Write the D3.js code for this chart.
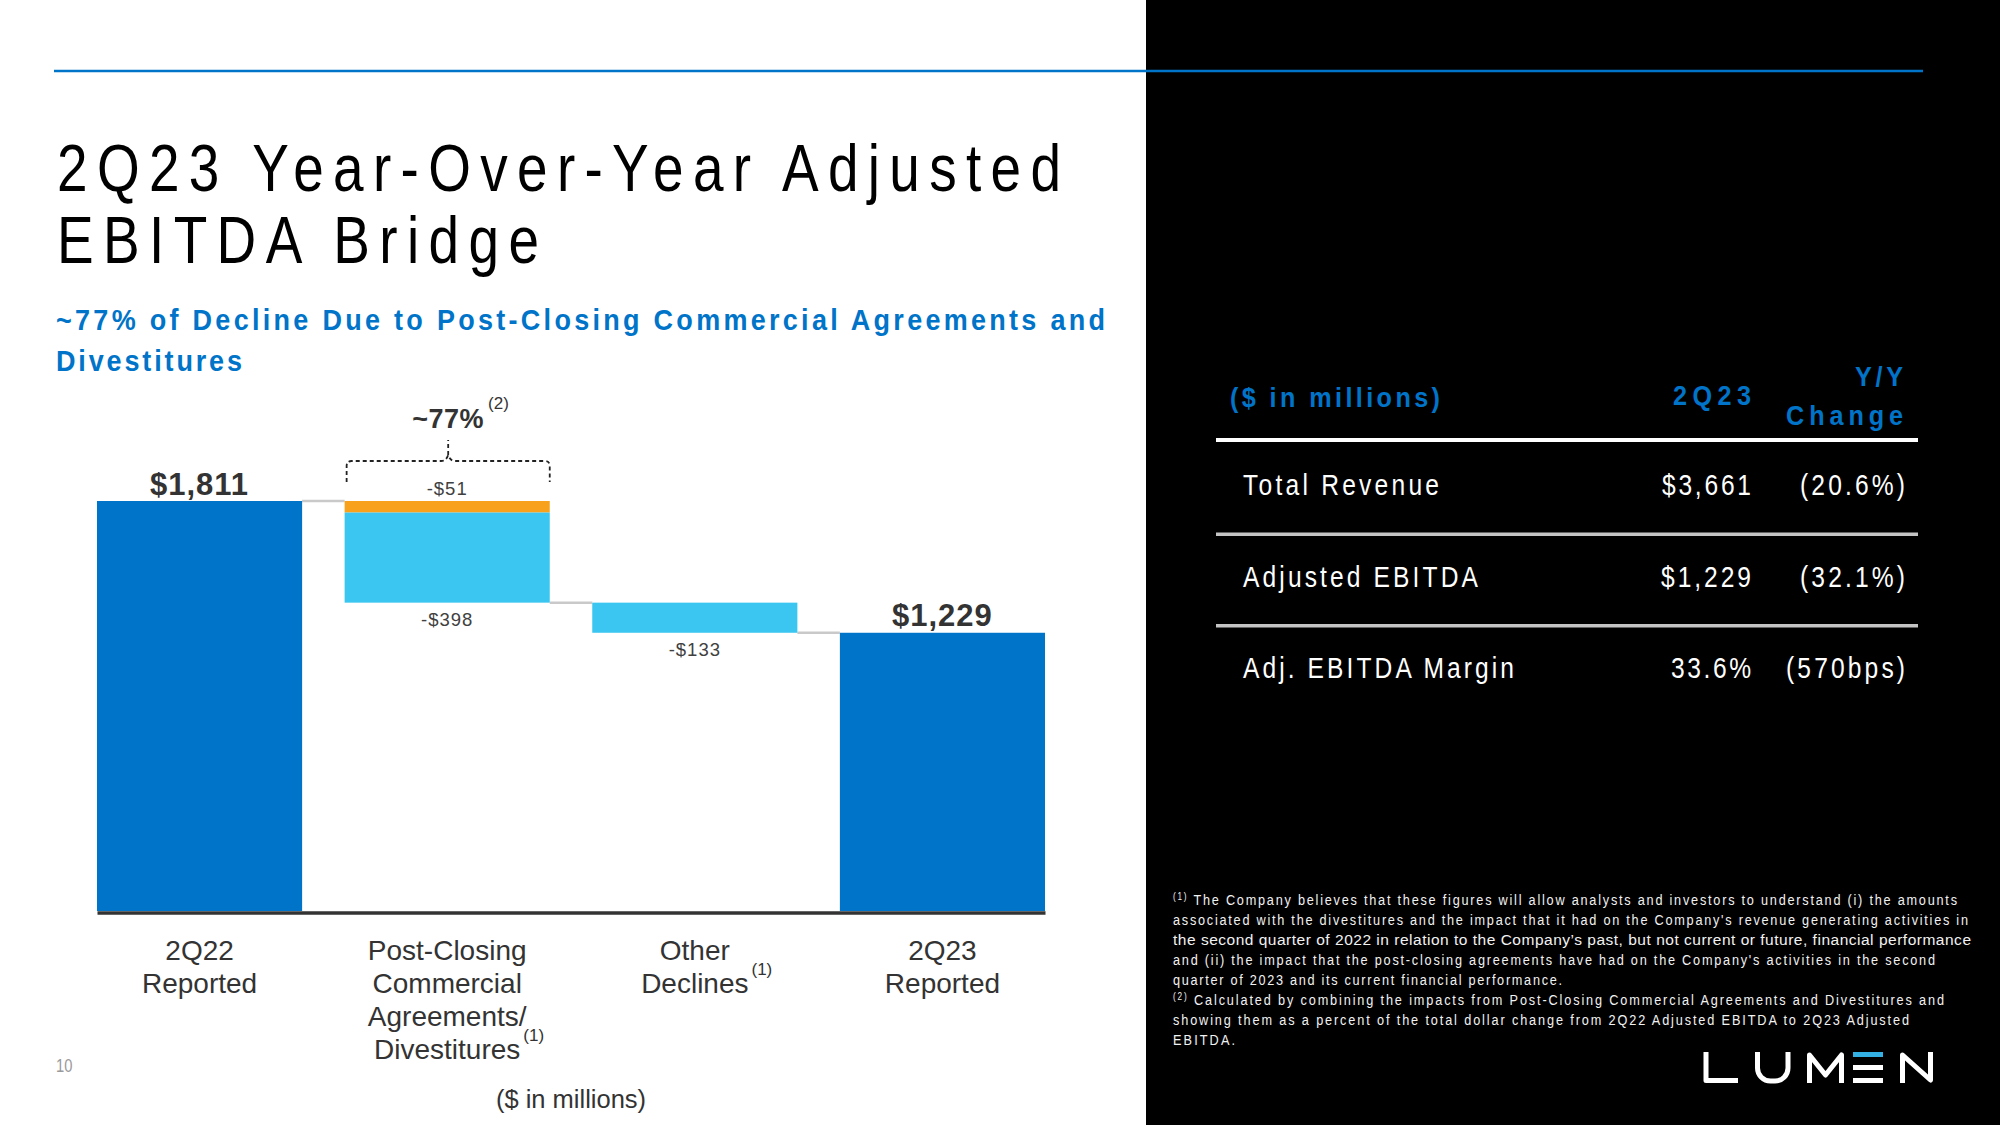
<!DOCTYPE html>
<html>
<head>
<meta charset="utf-8">
<script src="https://cdn.jsdelivr.net/npm/d3@7/dist/d3.min.js"></script>
<style>
  html, body { margin: 0; padding: 0; background: #fff; }
  svg { display: block; }
</style>
</head>
<body>
<svg id="slide" width="2000" height="1125"></svg>
<script>
// ---------------- DATA ----------------
const categories = ["2Q22 Reported", "Post-Closing Commercial Agreements/Divestitures", "Other Declines", "2Q23 Reported"];
const categoryLines = [["2Q22", "Reported"], ["Post-Closing", "Commercial", "Agreements/", "Divestitures"], ["Other", "Declines"], ["2Q23", "Reported"]];
const categoryNotes = ["", "(1)", "(1)", ""];
const barKinds = ["total", "delta", "delta", "total"];
const barValues = [[1811], [-51, -398], [-133], [1229]];
const barLabels = [["$1,811"], ["-$51", "-$398"], ["-$133"], ["$1,229"]];
const bracketLabel = "~77%";
const bracketNote = "(2)";
const axisUnit = "($ in millions)";

const titleLines = ["2Q23 Year-Over-Year Adjusted", "EBITDA Bridge"];
const subtitleLines = ["~77% of Decline Due to Post-Closing Commercial Agreements and", "Divestitures"];
const pageNumber = "10";

const tableHeader = ["($ in millions)", "2Q23", ["Y/Y", "Change"]];
const tableRowLabels = ["Total Revenue", "Adjusted EBITDA", "Adj. EBITDA Margin"];
const table2Q23 = ["$3,661", "$1,229", "33.6%"];
const tableChange = ["(20.6%)", "(32.1%)", "(570bps)"];

const footnoteLines = [
  ["(1)", " The Company believes that these figures will allow analysts and investors to understand (i) the amounts"],
  ["", "associated with the divestitures and the impact that it had on the Company's revenue generating activities in"],
  ["", "the second quarter of 2022 in relation to the Company\u2019s past, but not current or future, financial performance"],
  ["", "and (ii) the impact that the post-closing agreements have had on the Company's activities in the second"],
  ["", "quarter of 2023 and its current financial performance."],
  ["(2)", " Calculated by combining the impacts from Post-Closing Commercial Agreements and Divestitures and"],
  ["", "showing them as a percent of the total dollar change from 2Q22 Adjusted EBITDA to 2Q23 Adjusted"],
  ["", "EBITDA."]
];
const logoText = "LUMEN";

// ---------------- STYLE ----------------
const C = {
  dark: "#0074C8",
  light: "#3AC6F0",
  orange: "#F7A11C",
  connector: "#C9C9C9",
  text: "#333333",
  blue: "#0074C8"
};
const SANS = "'Liberation Sans',Arial,Helvetica,sans-serif";
const NARROW_X = 0.82;
const NARROW_BOLD_X = 0.9;

// narrow (condensed + tracked) text: glyphs squeezed horizontally, spacing fitted to a width
function narrowText(parent, o) {
  const sx = o.sx == null ? NARROW_X : o.sx;
  const g = parent.append("g").attr("transform", `translate(${o.x},${o.y}) scale(${sx},1)`);
  const t = g.append("text").attr("x", 0).attr("y", 0)
    .attr("font-family", SANS).attr("font-size", o.size)
    .attr("font-weight", o.weight || "normal").attr("fill", o.fill)
    .attr("text-anchor", o.anchor || "start");
  if (o.width) t.attr("textLength", o.width / sx).attr("lengthAdjust", "spacing");
  if (o.text != null) t.text(o.text);
  return t;
}

const svg = d3.select("#slide");

// background panels
svg.append("rect").attr("x", 0).attr("y", 0).attr("width", 2000).attr("height", 1125).attr("fill", "#fff");
svg.append("rect").attr("x", 1146).attr("y", 0).attr("width", 854).attr("height", 1125).attr("fill", "#000");
svg.append("line").attr("x1", 54).attr("x2", 1923).attr("y1", 71).attr("y2", 71)
  .attr("stroke", C.blue).attr("stroke-width", 2.5);

// title
const titleWidths = [1004, 482];
titleLines.forEach((t, i) => {
  narrowText(svg, { x: 57, y: 191 + i * 72, size: 67, fill: "#000", width: titleWidths[i], text: t });
});
const subtitleWidths = [1049, 186];
subtitleLines.forEach((t, i) => {
  narrowText(svg, { x: 56, y: 330 + i * 41, size: 30, weight: "bold", fill: C.blue, width: subtitleWidths[i], text: t, sx: NARROW_BOLD_X });
});

// ---------------- CHART ----------------
const x = d3.scaleBand().domain(categories).range([97, 1045]).paddingInner(0.1717).paddingOuter(0);
const y = d3.scaleLinear().domain([0, 1811]).range([911, 501]);
const bw = x.bandwidth();

const chart = svg.append("g");

let running = 0;
const rects = [];
const levels = [];
barValues.forEach((vals, i) => {
  const cat = categories[i];
  if (barKinds[i] === "total") {
    rects.push({ cat, top: vals[0], bottom: 0, color: C.dark, bar: i, seg: 0 });
    levels.push([vals[0], vals[0]]);
    running = vals[0];
  } else {
    const start = running;
    vals.forEach((v, j) => {
      const color = vals.length > 1 && j === 0 ? C.orange : C.light;
      rects.push({ cat, top: running, bottom: running + v, color, bar: i, seg: j });
      running += v;
    });
    levels.push([start, running]);
  }
});

// connectors
for (let i = 0; i < categories.length - 1; i++) {
  const lvl = levels[i][1];
  chart.append("line")
    .attr("x1", x(categories[i]) + bw).attr("x2", x(categories[i + 1]))
    .attr("y1", y(lvl)).attr("y2", y(lvl))
    .attr("stroke", C.connector).attr("stroke-width", 2.5);
}

chart.selectAll("rect.bar").data(rects).join("rect")
  .attr("class", "bar")
  .attr("x", d => x(d.cat))
  .attr("width", bw)
  .attr("y", d => y(Math.max(d.top, d.bottom)))
  .attr("height", d => Math.abs(y(d.top) - y(d.bottom)))
  .attr("fill", d => d.color);

// value labels
barLabels.forEach((labs, i) => {
  const cx = x(categories[i]) + bw / 2;
  if (barKinds[i] === "total") {
    chart.append("text").attr("x", cx).attr("y", y(barValues[i][0]) - 6.5)
      .attr("text-anchor", "middle").attr("font-family", SANS).attr("font-weight", "bold")
      .attr("font-size", 31).attr("letter-spacing", 1).attr("fill", C.text).text(labs[0]);
  } else {
    const segs = rects.filter(r => r.bar === i);
    labs.forEach((lab, j) => {
      const s = segs[j];
      const above = labs.length > 1 && j === 0;
      const yy = above ? y(s.top) - 6 : y(s.bottom) + 23;
      chart.append("text").attr("x", cx).attr("y", yy)
        .attr("text-anchor", "middle").attr("font-family", SANS)
        .attr("font-size", 18.5).attr("letter-spacing", 1).attr("fill", "#404040").text(lab);
    });
  }
});

// bracket annotation over the post-closing bar
{
  const cat = categories[1];
  const L = x(cat) + 2, R = x(cat) + bw, M = (L + R) / 2;
  const topY = y(levels[1][0]);
  const hy = topY - 40, by = topY - 19, peak = hy - 6, stem = hy - 21;
  const path = `M${L},${by} V${hy + 5} Q${L},${hy} ${L + 5},${hy} H${M - 7} Q${M - 2},${hy} ${M},${peak} Q${M + 2},${hy} ${M + 7},${hy} H${R - 5} Q${R},${hy} ${R},${hy + 5} V${by} M${M},${peak} V${stem}`;
  chart.append("path").attr("d", path).attr("fill", "none")
    .attr("stroke", "#222").attr("stroke-width", 1.8).attr("stroke-dasharray", "4,3");
  const lt = chart.append("text").attr("x", M).attr("y", stem - 12)
    .attr("text-anchor", "middle").attr("font-family", SANS).attr("font-weight", "bold")
    .attr("font-size", 27).attr("letter-spacing", 0.5).attr("fill", C.text).text(bracketLabel);
  const w = lt.node().getComputedTextLength();
  chart.append("text").attr("x", M + w / 2 + 4).attr("y", stem - 31)
    .attr("font-family", SANS).attr("font-size", 17).attr("fill", C.text).text(bracketNote);
}

// axis
const axisG = svg.append("g").attr("transform", `translate(0,${y(0) + 1.5})`)
  .call(d3.axisBottom(x).tickSize(0).tickSizeOuter(0).tickPadding(0));
axisG.select(".domain").attr("stroke", "#333").attr("stroke-width", 3.5);
axisG.attr("font-family", SANS).attr("font-size", 28);
axisG.selectAll(".tick text").each(function (d, i) {
  const t = d3.select(this);
  t.text(null).attr("y", 0).attr("dy", null).attr("fill", C.text);
  const lines = categoryLines[i];
  let last;
  lines.forEach((ln, j) => {
    last = t.append("tspan").attr("x", 0).attr("y", 47.5 + j * 33).text(ln);
  });
  if (categoryNotes[i]) {
    const w = last.node().getComputedTextLength();
    d3.select(this.parentNode).append("text")
      .attr("x", w / 2 + 3).attr("y", 47.5 + (lines.length - 1) * 33 - 18)
      .attr("font-size", 17).attr("fill", C.text).attr("text-anchor", "start")
      .text(categoryNotes[i]);
  }
});

svg.append("text").attr("x", 571).attr("y", 1108).attr("text-anchor", "middle")
  .attr("font-family", SANS).attr("font-size", 25.5).attr("fill", C.text).text(axisUnit);

narrowText(svg, { x: 56, y: 1072, size: 18, fill: "#9a9a9a", text: pageNumber });

// ---------------- TABLE ----------------
const tbl = svg.append("g");
narrowText(tbl, { x: 1230, y: 407, size: 28, weight: "bold", fill: C.blue, width: 210, text: tableHeader[0], sx: NARROW_BOLD_X });
narrowText(tbl, { x: 1751, y: 405, size: 28, weight: "bold", fill: C.blue, width: 78, anchor: "end", text: tableHeader[1], sx: NARROW_BOLD_X });
narrowText(tbl, { x: 1903, y: 386, size: 28, weight: "bold", fill: C.blue, width: 48, anchor: "end", text: tableHeader[2][0], sx: NARROW_BOLD_X });
narrowText(tbl, { x: 1903, y: 425, size: 28, weight: "bold", fill: C.blue, width: 117, anchor: "end", text: tableHeader[2][1], sx: NARROW_BOLD_X });

tbl.append("line").attr("x1", 1216).attr("x2", 1918).attr("y1", 440).attr("y2", 440)
  .attr("stroke", "#fff").attr("stroke-width", 4);

const rowY = d3.scalePoint().domain(tableRowLabels).range([495, 678]);
const labelW = [196, 235, 271];
const valW = [89, 90, 80];
const chgW = [105, 105, 119];
tableRowLabels.forEach((lab, i) => {
  const yy = rowY(lab);
  narrowText(tbl, { x: 1243, y: yy, size: 30, fill: "#fff", width: labelW[i], text: lab });
  narrowText(tbl, { x: 1751, y: yy, size: 30, fill: "#fff", width: valW[i], anchor: "end", text: table2Q23[i] });
  narrowText(tbl, { x: 1905, y: yy, size: 30, fill: "#fff", width: chgW[i], anchor: "end", text: tableChange[i] });
  if (i < tableRowLabels.length - 1) {
    const ly = (yy + rowY(tableRowLabels[i + 1])) / 2 - 6.5;
    tbl.append("line").attr("x1", 1216).attr("x2", 1918).attr("y1", ly).attr("y2", ly)
      .attr("stroke", "#c4c4c4").attr("stroke-width", 3.5);
  }
});

// ---------------- FOOTNOTES ----------------
const fnW = [784, 795, 798, 762, 389, 771, 736, 62];
footnoteLines.forEach((ln, i) => {
  const t = narrowText(svg, { x: 1173, y: 905 + i * 20, size: 15.5, fill: "#f2f2f2", width: fnW[i], sx: i === 2 ? 1 : NARROW_X });
  if (ln[0]) {
    t.append("tspan").attr("font-size", 10).attr("dy", -5).text(ln[0]);
    t.append("tspan").attr("dy", 5).text(ln[1]);
  } else {
    t.text(ln[1]);
  }
});

// ---------------- LOGO (geometric strokes) ----------------
{
  const lg = svg.append("g").attr("fill", "none").attr("stroke", "#fff").attr("stroke-width", 5)
    .attr("stroke-linejoin", "round").attr("stroke-linecap", "butt");
  lg.append("title").text(logoText);
  lg.append("path").attr("d", "M1706,1052 V1080.5 H1738");
  lg.append("path").attr("d", "M1757.5,1052 V1068 A13,13 0 0 0 1770.5,1081 H1775 A13,13 0 0 0 1788,1068 V1052");
  lg.append("path").attr("d", "M1809.5,1083 V1055 L1825.5,1075 L1841.5,1055 V1083");
  [1054.5, 1067.5, 1080.5].forEach((yy, k) => {
    lg.append("line").attr("x1", 1853).attr("x2", 1883).attr("y1", yy).attr("y2", yy)
      .attr("stroke", k === 0 ? "#34B1E4" : "#fff");
  });
  lg.append("path").attr("d", "M1902.5,1083 V1055 L1930.5,1080 V1052");
}
</script>
</body>
</html>
